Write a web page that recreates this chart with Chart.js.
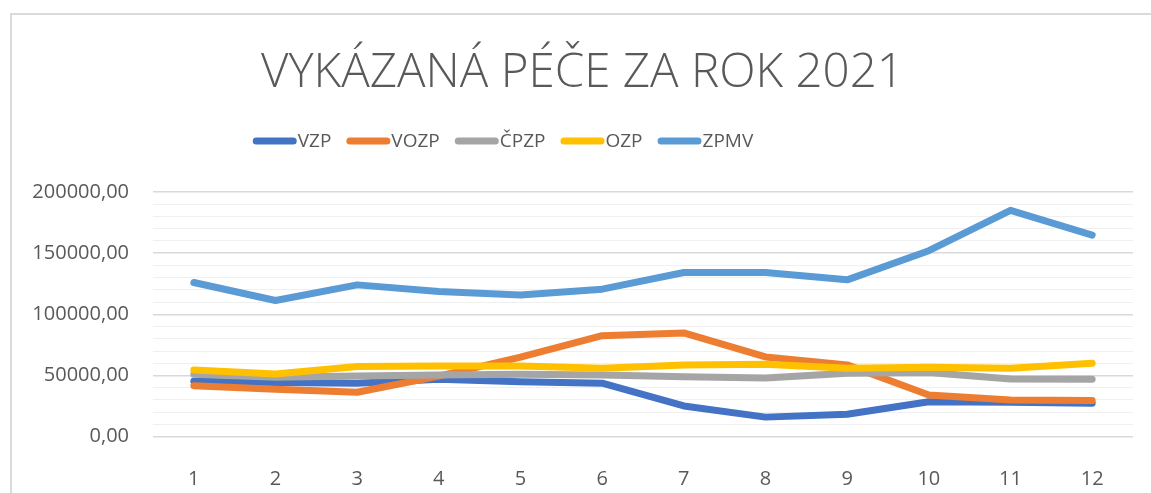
<!DOCTYPE html>
<html>
<head>
  <title>Vykázaná péče za rok 2021</title>
  <script src="https://cdn.jsdelivr.net/npm/chart.js"></script>
  <style>
    html, body { margin: 0; padding: 0; background: #fff; overflow: hidden; width: 1151px; height: 493px; }
    #frame { position: absolute; left: 10px; top: 13px; width: 1300px; height: 600px; border: 2px solid #dadada; }
    #wrap { position: absolute; left: 0; top: 0; width: 1186px; height: 493px; }
  </style>
</head>
<body>
<div id="frame"></div>
<div id="wrap"><canvas id="chart" width="1186" height="493"></canvas></div>

<script>
  const months = ['1', '2', '3', '4', '5', '6', '7', '8', '9', '10', '11', '12'];

  const vzp  = [45300, 44200, 43700, 47000, 45000, 43700, 25100, 16000, 18300, 28600, 28100, 27300];
  const vozp = [41700, 38800, 36300, 49500, 65000, 82600, 84800, 65200, 58700, 34100, 30000, 29500];
  const cpzp = [51000, 48600, 49700, 50500, 51000, 50500, 49100, 48000, 51900, 52400, 47200, 47000];
  const ozp  = [54600, 51300, 57300, 57800, 57800, 56000, 58700, 59200, 56000, 56800, 56000, 60000];
  const zpmv = [126000, 111300, 124100, 118600, 115900, 120600, 134200, 134200, 128200, 152000, 185000, 164800];

  const seriesNames  = ['VZP', 'VOZP', 'ČPZP', 'OZP', 'ZPMV'];
  const seriesColors = ['#4472C4', '#ED7D31', '#A5A5A5', '#FFC000', '#5B9BD5'];
  const seriesValues = [vzp, vozp, cpzp, ozp, zpmv];

  const textColor = '#595959';
  const fontFamily = "'Open Sans', sans-serif";

  // excel-like legend: thick rounded line + label right after it
  const lineLegend = {
    id: 'lineLegend',
    afterDraw(chart) {
      const ctx = chart.ctx;
      const sw = 44, gap = 15, y = 141;
      ctx.save();
      ctx.font = '19px ' + fontFamily;
      const items = chart.data.datasets.map(ds => ({
        label: ds.label, color: ds.borderColor, w: ctx.measureText(ds.label).width
      }));
      let total = items.reduce((s, it) => s + sw + 1 + it.w, 0) + gap * (items.length - 1);
      let x = 503 - total / 2;
      items.forEach(it => {
        ctx.strokeStyle = it.color;
        ctx.lineWidth = 7;
        ctx.lineCap = 'round';
        ctx.beginPath();
        ctx.moveTo(x + 3.5, y);
        ctx.lineTo(x + sw - 3.5, y);
        ctx.stroke();
        ctx.fillStyle = textColor;
        ctx.textBaseline = 'middle';
        ctx.textAlign = 'left';
        ctx.fillText(it.label, x + sw + 1, y + 1);
        x += sw + 1 + it.w + gap;
      });
      ctx.restore();
    }
  };

  new Chart(document.getElementById('chart'), {
    type: 'line',
    data: {
      labels: months,
      datasets: seriesNames.map((name, i) => ({
        label: name,
        data: seriesValues[i],
        borderColor: seriesColors[i],
        backgroundColor: seriesColors[i],
        borderWidth: 7,
        borderCapStyle: 'round',
        borderJoinStyle: 'round',
        pointRadius: 0,
        tension: 0,
        order: seriesNames.length - i
      }))
    },
    options: {
      responsive: false,
      animation: false,
      layout: { padding: { left: 32, right: 53, top: 0, bottom: 0 } },
      plugins: {
        legend: { display: false },
        tooltip: { enabled: false },
        title: {
          display: true,
          text: 'VYKÁZANÁ PÉČE ZA ROK 2021',
          color: textColor,
          font: { family: fontFamily, size: 47.5, weight: '300' },
          padding: { top: 45, bottom: 90 }
        }
      },
      scales: {
        x: {
          offset: true,
          grid: { display: false },
          border: { display: false },
          ticks: { color: textColor, font: { family: fontFamily, size: 20 }, padding: 23, maxRotation: 0 },
          afterFit(scale) { scale.height = 56.3; }
        },
        y: {
          min: 0,
          max: 200000,
          border: { display: false },
          grid: {
            drawTicks: false,
            color: c => c.tick.value % 50000 === 0 ? '#d9d9d9' : '#f0f0f0',
            lineWidth: c => c.tick.value % 50000 === 0 ? 1.5 : 1
          },
          ticks: {
            stepSize: 10000,
            maxTicksLimit: 100,
            autoSkip: false,
            padding: 24,
            color: textColor,
            font: { family: fontFamily, size: 20 },
            callback: v => v % 50000 === 0 ? v.toFixed(2).replace('.', ',') : ''
          },
          afterFit(scale) { scale.width = 121; }
        }
      }
    },
    plugins: [lineLegend]
  });
</script>
</body>
</html>
